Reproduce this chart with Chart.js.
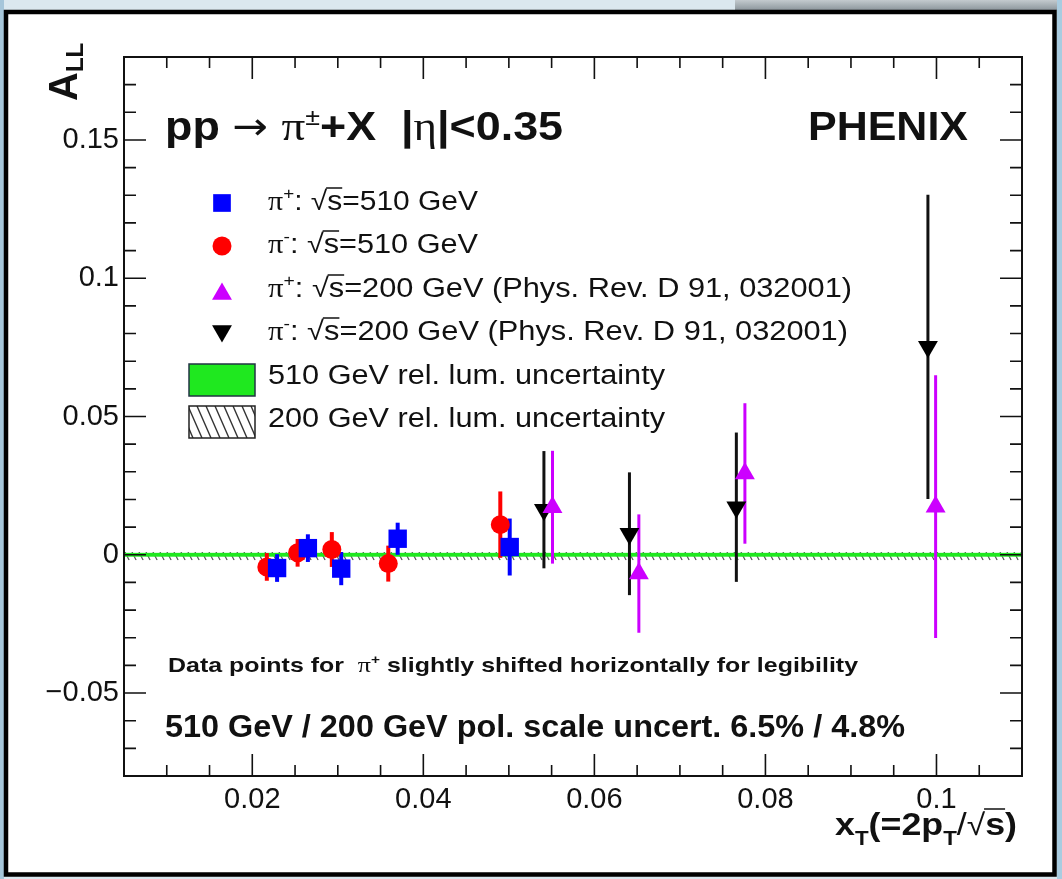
<!DOCTYPE html>
<html>
<head>
<meta charset="utf-8">
<script src="https://cdn.jsdelivr.net/npm/chart.js@4.4.1/dist/chart.umd.min.js"></script>
<style>
  html, body { margin: 0; padding: 0; background: #dbe8ef; }
  canvas { display: block; }
</style>
</head>
<body>
<canvas id="c" width="1062" height="879"></canvas>
<script>
// pi+ , sqrt(s) = 510 GeV
const xPip510 = [0.0229, 0.0265, 0.0304, 0.0370, 0.0501];
const yPip510 = [-0.0048, 0.0024, -0.0050, 0.0058, 0.0028];
const ePip510 = [0.0050, 0.0050, 0.0060, 0.0058, 0.0103];
// pi- , sqrt(s) = 510 GeV
const xPim510 = [0.0217, 0.0253, 0.0293, 0.0359, 0.0490];
const yPim510 = [-0.0044, 0.0007, 0.0019, -0.0032, 0.0109];
const ePim510 = [0.0050, 0.0050, 0.0063, 0.0065, 0.0120];
// pi+ , sqrt(s) = 200 GeV (PRD 91, 032001)
const xPip200 = [0.0551, 0.0652, 0.0776, 0.0999];
const yPip200 = [0.0172, -0.0068, 0.0294, 0.0174];
const ePip200 = [0.0204, 0.0214, 0.0254, 0.0475];
// pi- , sqrt(s) = 200 GeV
const xPim200 = [0.0541, 0.0641, 0.0766, 0.0990];
const yPim200 = [0.0163, 0.0076, 0.0172, 0.0752];
const ePim200 = [0.0212, 0.0222, 0.0270, 0.0550];

// rel. lum. bands (half widths) and the small horizontal sys marks
const lum510 = 0.0007;
const lum200 = [-0.0020, 0.0010];
const sysHalfX = 0.0009;

const xMajor = [0.02, 0.04, 0.06, 0.08, 0.1];
const xMinor = [0.01, 0.015, 0.025, 0.03, 0.035, 0.045, 0.05, 0.055, 0.065, 0.07, 0.075, 0.085, 0.09, 0.095, 0.105];
const yMajor = [-0.05, 0, 0.05, 0.1, 0.15];
const yMinor = [-0.07, -0.06, -0.04, -0.03, -0.02, -0.01, 0.01, 0.02, 0.03, 0.04, 0.06, 0.07, 0.08, 0.09, 0.11, 0.12, 0.13, 0.14, 0.16, 0.17];
const yLabels = ['\u22120.05', '0', '0.05', '0.1', '0.15'];

const SANS = '"Liberation Sans", Arial, Helvetica, sans-serif';
const SERIF = '"Liberation Serif", "DejaVu Serif", serif';
const GREEN = '#1fe81f';

function pts(xs, ys) {
  return xs.map((x, i) => ({ x: x, y: ys[i] }));
}

// draws a row of text pieces, optionally squeezed to a given width
function rich(ctx, x, y, segs, width) {
  ctx.save();
  let total = 0;
  segs.forEach(s => { ctx.font = s.f; s.w = ctx.measureText(s.t).width; total += s.w; });
  const k = width ? width / total : 1;
  ctx.translate(x, y);
  ctx.scale(k, 1);
  ctx.fillStyle = '#111';
  ctx.textBaseline = 'alphabetic';
  ctx.textAlign = 'left';
  let cx = 0;
  segs.forEach(s => {
    ctx.font = s.f;
    ctx.fillText(s.t, cx, s.dy || 0);
    if (s.over !== undefined) {
      ctx.strokeStyle = '#111';
      ctx.lineWidth = 1.5;
      ctx.beginPath();
      ctx.moveTo(cx - 1, s.over);
      ctx.lineTo(cx + s.w, s.over);
      ctx.stroke();
    }
    cx += s.w;
  });
  ctx.restore();
}

function sqrtS(size, bold) {
  const f = (bold ? 'bold ' : '') + size + 'px ' + SANS;
  return [
    { t: '\u221A', f: size + 'px ' + SANS },
    { t: 's', f: f, over: -Math.round(size * 0.8) }
  ];
}

function legendText(sign, energy, ref) {
  const s = 27;
  let segs = [
    { t: '\u03C0', f: s + 'px ' + SERIF },
    { t: sign, f: '17px ' + SANS, dy: -11 },
    { t: ': ', f: s + 'px ' + SANS }
  ].concat(sqrtS(s, false));
  segs.push({ t: '=' + energy + ' GeV' + (ref ? ' (Phys. Rev. D 91, 032001)' : ''), f: s + 'px ' + SANS });
  return segs;
}

const decor = {
  id: 'decor',
  beforeDraw(chart) {
    const ctx = chart.ctx;
    ctx.save();
    ctx.fillStyle = '#dbe8ef';
    ctx.fillRect(0, 0, 1062, 879);
    const g = ctx.createLinearGradient(0, 0, 0, 10);
    g.addColorStop(0, '#c3cace');
    g.addColorStop(1, '#8d979d');
    ctx.fillStyle = g;
    ctx.fillRect(735, 0, 327, 10);
    ctx.fillStyle = '#a6c6da';
    ctx.fillRect(0, 0, 4, 879);
    ctx.fillStyle = '#a9cce0';
    ctx.fillRect(1057, 0, 5, 879);
    ctx.fillStyle = '#fff';
    ctx.fillRect(6, 12, 1048, 862);
    ctx.strokeStyle = '#000';
    ctx.lineWidth = 4.5;
    ctx.strokeRect(6, 12, 1048.5, 862.5);
    ctx.restore();
  },
  beforeDatasetsDraw(chart) {
    const ctx = chart.ctx, xs = chart.scales.x, ys = chart.scales.y, a = chart.chartArea;
    ctx.save();
    ctx.beginPath();
    ctx.rect(a.left, a.top, a.right - a.left, a.bottom - a.top);
    ctx.clip();
    // 200 GeV hatched band
    const hTop = ys.getPixelForValue(lum200[1]), hBot = ys.getPixelForValue(lum200[0]);
    ctx.save();
    ctx.beginPath();
    ctx.rect(a.left, hTop, a.right - a.left, hBot - hTop);
    ctx.clip();
    ctx.strokeStyle = '#555';
    ctx.lineWidth = 1.2;
    for (let px = a.left - 20; px < a.right + 20; px += 7) {
      ctx.beginPath();
      ctx.moveTo(px, hTop);
      ctx.lineTo(px + (hBot - hTop) * 0.5, hBot);
      ctx.stroke();
    }
    ctx.restore();
    // 510 GeV green band
    const gTop = ys.getPixelForValue(lum510), gBot = ys.getPixelForValue(-lum510);
    ctx.fillStyle = GREEN;
    ctx.fillRect(a.left, gTop, a.right - a.left, gBot - gTop);
    // gray horizontal sys marks on 510 GeV points
    ctx.strokeStyle = '#9a9a9a';
    ctx.lineWidth = 2.5;
    [[xPip510, yPip510], [xPim510, yPim510]].forEach(([xv, yv]) => {
      xv.forEach((x, i) => {
        const py = ys.getPixelForValue(yv[i]);
        ctx.beginPath();
        ctx.moveTo(xs.getPixelForValue(x - sysHalfX), py);
        ctx.lineTo(xs.getPixelForValue(x + sysHalfX), py);
        ctx.stroke();
      });
    });
    // vertical error bars
    chart.data.datasets.forEach((ds, di) => {
      const meta = chart.getDatasetMeta(di);
      ctx.strokeStyle = ds.barColor;
      ctx.lineWidth = ds.barWidth;
      meta.data.forEach((p, j) => {
        const v = ds.data[j].y, e = ds.errors[j];
        ctx.beginPath();
        ctx.moveTo(p.x, ys.getPixelForValue(v + e));
        ctx.lineTo(p.x, ys.getPixelForValue(v - e));
        ctx.stroke();
      });
    });
    ctx.restore();
  },
  afterDatasetsDraw(chart) {
    const ctx = chart.ctx, xs = chart.scales.x, ys = chart.scales.y, a = chart.chartArea;
    ctx.save();
    // frame and ticks
    ctx.strokeStyle = '#111';
    ctx.lineWidth = 2;
    ctx.strokeRect(a.left, a.top, a.right - a.left, a.bottom - a.top);
    ctx.lineWidth = 1.6;
    const tickX = (vals, len) => vals.forEach(v => {
      const px = xs.getPixelForValue(v);
      ctx.beginPath();
      ctx.moveTo(px, a.bottom); ctx.lineTo(px, a.bottom - len);
      ctx.moveTo(px, a.top); ctx.lineTo(px, a.top + len);
      ctx.stroke();
    });
    const tickY = (vals, len) => vals.forEach(v => {
      const py = ys.getPixelForValue(v);
      ctx.beginPath();
      ctx.moveTo(a.left, py); ctx.lineTo(a.left + len, py);
      ctx.moveTo(a.right, py); ctx.lineTo(a.right - len, py);
      ctx.stroke();
    });
    tickX(xMajor, 22); tickX(xMinor, 11);
    tickY(yMajor, 22); tickY(yMinor, 12);

    // headline texts
    rich(ctx, 165, 140, [
      { t: 'pp ', f: 'bold 40px ' + SANS },
      { t: '\u2192 ', f: '38px "DejaVu Sans", sans-serif', dy: -1 },
      { t: '\u03C0', f: '42px ' + SERIF },
      { t: '\u00B1', f: '24px ' + SANS, dy: -15 },
      { t: '+X  |', f: 'bold 40px ' + SANS },
      { t: '\u03B7', f: '40px ' + SERIF },
      { t: '|<0.35', f: 'bold 40px ' + SANS }
    ], 398);
    rich(ctx, 808, 140, [{ t: 'PHENIX', f: 'bold 41px ' + SANS }], 160);

    // legend
    const mx = 222;
    ctx.fillStyle = '#0000ff';
    Chart.helpers.drawPoint(ctx, { pointStyle: 'rect', radius: 12.5, rotation: 0, borderWidth: 0 }, mx, 203);
    ctx.fillStyle = '#ff0000';
    Chart.helpers.drawPoint(ctx, { pointStyle: 'circle', radius: 9.5, rotation: 0, borderWidth: 0 }, mx, 246);
    ctx.fillStyle = '#cc00ff';
    Chart.helpers.drawPoint(ctx, { pointStyle: 'triangle', radius: 11.5, rotation: 0, borderWidth: 0 }, mx, 294);
    ctx.fillStyle = '#000';
    Chart.helpers.drawPoint(ctx, { pointStyle: 'triangle', radius: 11.5, rotation: 180, borderWidth: 0 }, mx, 331);
    ctx.fillStyle = GREEN;
    ctx.fillRect(189, 364, 66, 32);
    ctx.strokeStyle = '#234';
    ctx.lineWidth = 1.5;
    ctx.strokeRect(189, 364, 66, 32);
    ctx.save();
    ctx.beginPath();
    ctx.rect(189, 406, 66, 32);
    ctx.clip();
    ctx.strokeStyle = '#333';
    ctx.lineWidth = 1.4;
    for (let px = 170; px < 270; px += 9) {
      ctx.beginPath();
      ctx.moveTo(px, 406);
      ctx.lineTo(px + 14, 438);
      ctx.stroke();
    }
    ctx.restore();
    ctx.strokeStyle = '#222';
    ctx.lineWidth = 1.5;
    ctx.strokeRect(189, 406, 66, 32);

    rich(ctx, 268, 210, legendText('+', '510', false), 210);
    rich(ctx, 268, 253, legendText('-', '510', false), 210);
    rich(ctx, 268, 297, legendText('+', '200', true), 584);
    rich(ctx, 268, 340, legendText('-', '200', true), 580);
    rich(ctx, 268, 384, [{ t: '510 GeV rel. lum. uncertainty', f: '27px ' + SANS }], 397);
    rich(ctx, 268, 427, [{ t: '200 GeV rel. lum. uncertainty', f: '27px ' + SANS }], 397);

    // notes
    rich(ctx, 168, 672, [
      { t: 'Data points for  ', f: 'bold 21px ' + SANS },
      { t: '\u03C0', f: '22px ' + SERIF },
      { t: '+', f: 'bold 13px ' + SANS, dy: -8 },
      { t: ' slightly shifted horizontally for legibility', f: 'bold 21px ' + SANS }
    ], 690);
    rich(ctx, 165, 737, [{ t: '510 GeV / 200 GeV pol. scale uncert. 6.5% / 4.8%', f: 'bold 31px ' + SANS }], 740);

    // axis titles
    rich(ctx, 835, 835, [
      { t: 'x', f: 'bold 32px ' + SANS },
      { t: 'T', f: 'bold 20px ' + SANS, dy: 10 },
      { t: '(=2p', f: 'bold 32px ' + SANS },
      { t: 'T', f: 'bold 20px ' + SANS, dy: 10 },
      { t: '/', f: '32px ' + SANS },
      { t: '\u221A', f: '30px ' + SANS },
      { t: 's', f: 'bold 32px ' + SANS, over: -26 },
      { t: ')', f: 'bold 32px ' + SANS }
    ], 182);
    ctx.save();
    ctx.translate(77, 101);
    ctx.rotate(-Math.PI / 2);
    rich(ctx, 0, 0, [
      { t: 'A', f: 'bold 40px ' + SANS },
      { t: 'LL', f: 'bold 24px ' + SANS, dy: 6 }
    ]);
    ctx.restore();
    ctx.restore();
  }
};

new Chart(document.getElementById('c'), {
  type: 'scatter',
  data: {
    datasets: [
      { label: 'pi+ 510', data: pts(xPip510, yPip510), errors: ePip510, barColor: '#0000ff', barWidth: 4,
        pointStyle: 'rect', pointRadius: 13, backgroundColor: '#0000ff', borderWidth: 0 },
      { label: 'pi- 510', data: pts(xPim510, yPim510), errors: ePim510, barColor: '#ff0000', barWidth: 4,
        pointStyle: 'circle', pointRadius: 9.5, backgroundColor: '#ff0000', borderWidth: 0 },
      { label: 'pi+ 200', data: pts(xPip200, yPip200), errors: ePip200, barColor: '#cc00ff', barWidth: 3,
        pointStyle: 'triangle', pointRadius: 11.5, backgroundColor: '#cc00ff', borderWidth: 0 },
      { label: 'pi- 200', data: pts(xPim200, yPim200), errors: ePim200, barColor: '#111', barWidth: 3,
        pointStyle: 'triangle', rotation: 180, pointRadius: 11.5, backgroundColor: '#000', borderWidth: 0 }
    ]
  },
  options: {
    responsive: false,
    animation: false,
    layout: { padding: { top: 57, right: 40, left: 0, bottom: 0 } },
    plugins: { legend: { display: false }, tooltip: { enabled: false } },
    elements: { point: { hoverRadius: 0 } },
    scales: {
      x: {
        type: 'linear', min: 0.005, max: 0.11,
        grid: { display: false, drawTicks: false },
        border: { display: false },
        afterBuildTicks: s => { s.ticks = xMajor.map(v => ({ value: v })); },
        afterFit: s => { s.height = 103; },
        ticks: { color: '#111', padding: 7, font: { family: SANS, size: 29 }, callback: v => String(v) }
      },
      y: {
        type: 'linear', min: -0.08, max: 0.18,
        grid: { display: false, drawTicks: false },
        border: { display: false },
        afterBuildTicks: s => { s.ticks = yMajor.map(v => ({ value: v })); },
        afterFit: s => { s.width = 124; },
        ticks: { color: '#111', padding: 5, font: { family: SANS, size: 29 },
          callback: v => yLabels[yMajor.indexOf(v)] }
      }
    }
  },
  plugins: [decor]
});
</script>
</body>
</html>
